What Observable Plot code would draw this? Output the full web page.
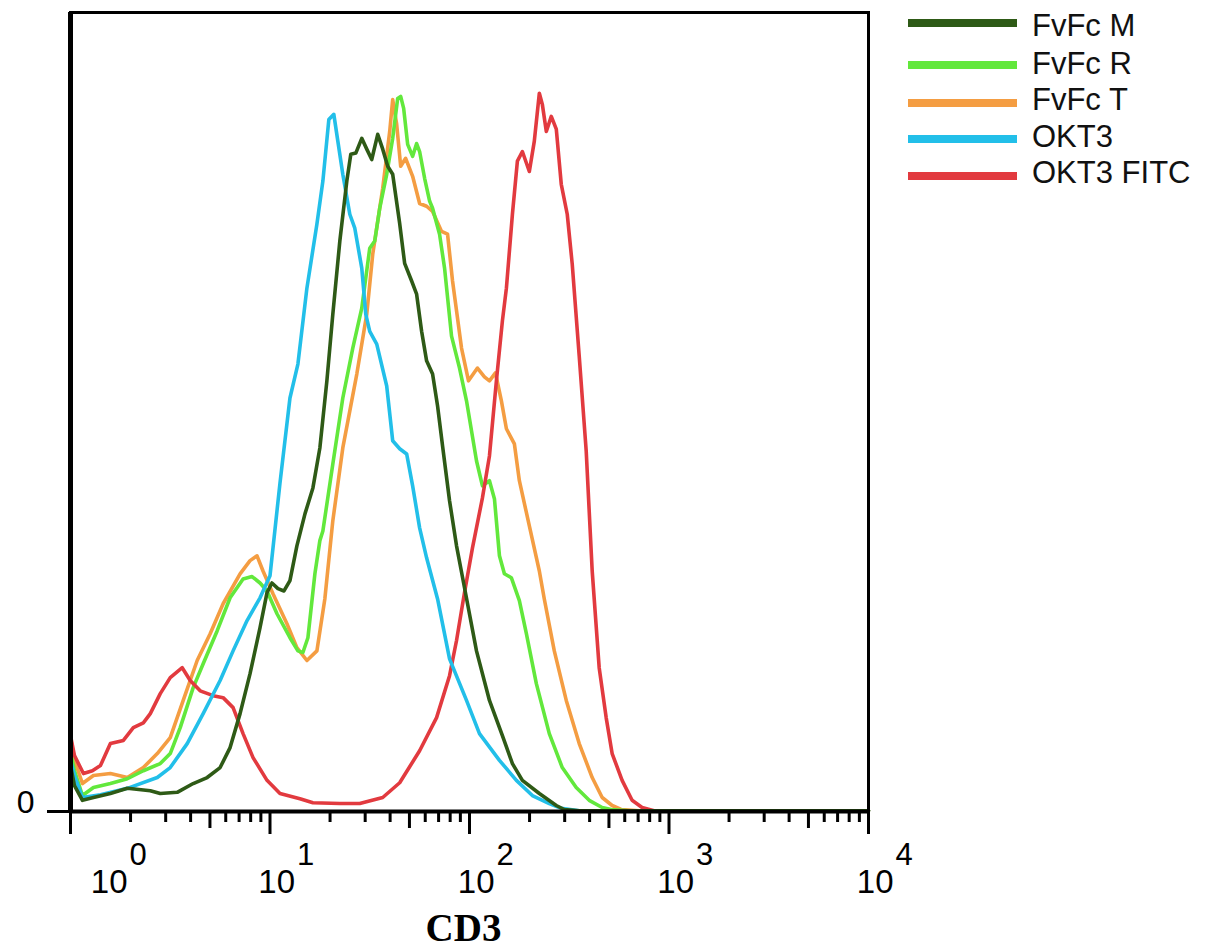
<!DOCTYPE html>
<html>
<head>
<meta charset="utf-8">
<script src="https://cdn.jsdelivr.net/npm/d3@7"></script>
<script src="https://cdn.jsdelivr.net/npm/@observablehq/plot@0.6"></script>
<style>
  body { margin: 0; background: #fff; }
  #chart { width: 1210px; height: 950px; }
</style>
</head>
<body>
<div id="chart"></div>
<script>
// ---- Series names & colours ----
const seriesNames = ["FvFc M", "FvFc R", "FvFc T", "OKT3", "OKT3 FITC"];
const seriesColors = ["#2e5a16", "#62e83c", "#f49d42", "#22bfe9", "#e23a3f"];

// ---- Axis tick values / labels ----
const majorTicks = [1, 10, 100, 1000, 10000];
const majorTickBase = "10";
const majorTickExponents = ["0", "1", "2", "3", "4"];
const midTicks = [5, 50, 500, 5000];
const minorTicks = [2, 3, 4, 6, 7, 8, 9, 20, 30, 40, 60, 70, 80, 90,
  200, 300, 400, 600, 700, 800, 900, 2000, 3000, 4000, 6000, 7000, 8000, 9000];
const yTicks = [0];
const xLabel = "CD3";

// ---- FvFc M (CD3 intensity, count) ----
const mX = [1, 1.047, 1.148, 1.303, 1.585, 1.928, 2.512, 2.818, 3.427, 4.121, 4.842, 5.623, 6.310, 7.079, 7.943, 8.913, 9.661, 10.23, 10.96, 11.75, 12.59, 13.64, 14.97, 16.41, 17.78, 19.28, 20.65, 22.39, 24.27, 25.41, 26.92, 28.84, 30.55, 32.36, 34.67, 36.73, 38.90, 41.21, 44.67, 47.31, 51.29, 54.32, 57.54, 60.95, 65.31, 69.18, 73.28, 79.43, 86.10, 94.41, 108.4, 125.9, 146.2, 164.1, 184.1, 223.9, 272.3, 298.5, 354.8, 10000];
const mY = [5.75, 3.25, 1.4, 1.75, 2.25, 2.9, 2.6, 2.25, 2.4, 3.5, 4.25, 5.5, 8, 12.25, 17.25, 23, 27.4, 28.6, 27.9, 27.6, 28.9, 33.25, 37.25, 40.5, 45.5, 53.9, 62.25, 71.4, 78.9, 82.25, 82.4, 84.25, 82.9, 81.6, 84.75, 82.9, 80.75, 79.75, 73.6, 68.6, 66.4, 64.75, 60.1, 56.4, 54.75, 50.75, 45.75, 38.9, 33.25, 28, 20.1, 13.9, 9.5, 6, 3.9, 2.25, 0.75, 0.25, 0.1, 0.1];

// ---- FvFc R ----
const rX = [1, 1.047, 1.148, 1.303, 1.585, 1.928, 2.318, 2.818, 3.162, 3.548, 4.121, 4.624, 5.432, 6.310, 7.328, 8.128, 8.913, 9.661, 10.84, 12.59, 13.80, 14.62, 15.49, 16.79, 17.78, 18.41, 20.65, 23.17, 26.00, 28.84, 31.62, 33.50, 35.48, 38.46, 41.21, 43.65, 45.19, 46.77, 48.98, 51.88, 54.32, 56.23, 59.57, 63.10, 65.31, 70.79, 74.99, 81.28, 89.13, 96.6, 108.4, 116.1, 125.9, 133.4, 141.3, 149.6, 162.2, 177.8, 192.8, 216.3, 251.2, 291.7, 342.7, 398.1, 462.4, 512.9, 631.0, 10000];
const rY = [7.4, 5.1, 2, 3, 3.5, 4.1, 5.1, 6, 7.25, 10.5, 15.5, 18.5, 22.6, 26.75, 29.1, 29.4, 28.6, 27.6, 24.75, 21.75, 20.1, 19.9, 21.75, 29.75, 33.9, 35.1, 43.5, 51.75, 58, 63, 70.5, 71.4, 75.5, 79.75, 84.25, 89.25, 89.5, 88, 83.5, 82, 83.6, 82.6, 79.25, 76.4, 75.5, 72.25, 68, 59.5, 55.5, 51.4, 43.9, 40.75, 41.4, 39.1, 32, 29.75, 29.25, 26.4, 22.25, 16, 9.75, 5.5, 3, 1.4, 0.5, 0.25, 0.1, 0.1];

// ---- FvFc T ----
const tX = [1, 1.047, 1.148, 1.303, 1.585, 1.928, 2.318, 2.723, 3.162, 3.673, 4.315, 5.012, 5.821, 7.079, 7.943, 8.610, 9.226, 10.35, 12.16, 13.64, 15.31, 17.18, 18.83, 20.65, 23.17, 27.23, 30.55, 32.73, 36.73, 39.81, 41.21, 43.15, 45.19, 47.86, 51.88, 56.23, 60.95, 65.31, 72.44, 77.63, 82.23, 91.20, 98.86, 109.6, 118.8, 125.9, 134.9, 144.5, 153.1, 167.9, 177.8, 199.5, 223.9, 237.1, 266.1, 305.5, 354.8, 412.1, 462.4, 518.8, 575.4, 707.9, 10000];
const tY = [9.25, 6.4, 3.5, 4.5, 4.75, 4.25, 5.5, 7.25, 9.25, 13.9, 18.9, 22.25, 26, 29.75, 31.4, 32, 30.1, 27.25, 23.5, 20.5, 18.9, 20.1, 26.6, 36.4, 45.5, 54.75, 62.25, 69.75, 78, 85.1, 89.1, 86, 80.75, 81.75, 79.5, 76.1, 75.75, 75.1, 72.6, 72.25, 66.4, 58, 53.9, 55.5, 54.4, 53.9, 54.9, 51.4, 47.9, 46, 41.4, 35.75, 30.1, 26.6, 20.1, 13.9, 8.5, 4.25, 1.75, 0.75, 0.25, 0.1, 0.1];

// ---- OKT3 ----
const oX = [1, 1.047, 1.148, 1.413, 1.928, 2.723, 3.162, 3.846, 4.624, 5.623, 6.531, 7.674, 8.913, 10, 11.22, 12.59, 13.80, 15.31, 17.18, 18.41, 19.72, 20.89, 21.88, 23.17, 25.12, 26.61, 28.84, 30.20, 31.62, 34.28, 38.46, 41.21, 44.67, 48.42, 51.88, 56.23, 60.95, 69.18, 79.43, 96.6, 112.2, 141.3, 171.8, 206.5, 251.2, 288.4, 354.8, 10000];
const oY = [6.4, 4.5, 1.75, 2.1, 2.9, 4.25, 5.5, 8.5, 12.25, 16.4, 20.1, 23.9, 26.75, 29.5, 41.1, 51.75, 56, 65.5, 73.5, 78.9, 86.6, 87.25, 83.9, 79.75, 74.75, 73, 68, 62.25, 60.1, 58.5, 53.25, 46.4, 45.4, 44.75, 40.75, 35.5, 31.75, 26.6, 19.1, 13.9, 9.75, 6.4, 3.9, 2, 1, 0.4, 0.1, 0.1];

// ---- OKT3 FITC ----
const fX = [1, 1.047, 1.161, 1.288, 1.413, 1.585, 1.841, 2.065, 2.318, 2.512, 2.818, 3.162, 3.631, 3.981, 4.467, 5.188, 5.821, 6.531, 7.328, 8.223, 9.661, 11.22, 14.13, 16.41, 22.39, 28.18, 36.73, 44.67, 56.23, 68.39, 79.43, 86.10, 94.41, 103.5, 116.1, 125.9, 136.4, 146.2, 153.1, 164.1, 173.8, 184.1, 199.5, 211.3, 223.9, 231.8, 242.7, 257.0, 272.3, 288.4, 309.0, 327.3, 354.8, 384.6, 412.1, 446.7, 484.2, 518.8, 582.1, 653.1, 732.8, 841.4, 10000];
const fY = [9.5, 7, 4.75, 5.1, 5.75, 8.5, 8.9, 10.5, 11.1, 12.25, 14.75, 16.75, 18, 16.4, 15.1, 14.5, 14.25, 13, 9.75, 6.75, 3.9, 2.25, 1.6, 1.1, 1, 1, 1.75, 3.6, 7.6, 11.75, 17, 21.4, 27.4, 33, 39.25, 44.5, 53.9, 61.4, 65.5, 74.75, 81.4, 82.6, 80.1, 83.9, 89.9, 88.5, 85.1, 87, 85.4, 78.5, 74.75, 68.5, 57, 45.1, 30.1, 18, 11.75, 7.25, 3.9, 1.4, 0.5, 0.1, 0.1];

// ---- Build table (drawing order: T, R, FITC, OKT3, M) ----
const seriesList = [
  {name: "FvFc T", x: tX, y: tY},
  {name: "FvFc R", x: rX, y: rY},
  {name: "OKT3 FITC", x: fX, y: fY},
  {name: "OKT3", x: oX, y: oY},
  {name: "FvFc M", x: mX, y: mY}
];
const rows = seriesList.flatMap(s => s.x.map((x, j) => ({series: s.name, x, y: s.y[j]})));

const W = 1210, H = 950;
const mL = 70, mR = 342, mT = 12, mB = 139;
const plotW = W - mL - mR, plotH = H - mT - mB;
const sans = "Liberation Sans, Arial, Helvetica, sans-serif";
const serif = "Liberation Serif, Times New Roman, serif";

const tickMarks = (vals, len) => Plot.tickX(vals, {
  x: d => d, stroke: "black", strokeWidth: 3, insetTop: plotH - len, dy: len
});

const chart = Plot.plot({
  width: W, height: H,
  marginLeft: mL, marginRight: mR, marginTop: mT, marginBottom: mB,
  style: {background: "white"},
  x: {type: "log", domain: [1, 10000], axis: null},
  y: {domain: [0, 100], axis: null},
  color: {domain: seriesNames, range: seriesColors},
  marks: [
    Plot.line(rows, {x: "x", y: "y", z: "series", stroke: "series", strokeWidth: 3.6,
      strokeLinejoin: "round", strokeLinecap: "round"}),
    Plot.frame({stroke: "black", strokeWidth: 3}),
    Plot.ruleX([1], {stroke: "black", strokeWidth: 5}),
    Plot.ruleY([0], {stroke: "black", strokeWidth: 4}),
    tickMarks(majorTicks, 23),
    tickMarks(midTicks, 17),
    tickMarks(minorTicks, 11),
    Plot.tickY(yTicks, {y: d => d, stroke: "black", strokeWidth: 3, insetRight: plotW - 23, dx: -23}),
    Plot.text(yTicks, {y: d => d, text: d => String(d), frameAnchor: "left", textAnchor: "end",
      lineAnchor: "bottom", dx: -36, dy: 1, fontSize: 32, fontFamily: sans, fill: "black"}),
    // "10" base labels
    Plot.text(majorTicks.slice(0, 1), {x: d => d, text: () => majorTickBase, frameAnchor: "bottom",
      textAnchor: "end", lineAnchor: "bottom", dx: 57, dy: 81, fontSize: 33, fontFamily: sans, fill: "black"}),
    Plot.text(majorTicks.slice(1), {x: d => d, text: () => majorTickBase, frameAnchor: "bottom",
      textAnchor: "end", lineAnchor: "bottom", dx: 25, dy: 81, fontSize: 33, fontFamily: sans, fill: "black"}),
    // exponents
    Plot.text(majorTicks.slice(0, 1), {x: d => d, text: d => majorTickExponents[majorTicks.indexOf(d)],
      frameAnchor: "bottom", textAnchor: "start", lineAnchor: "bottom", dx: 59, dy: 53,
      fontSize: 31, fontFamily: sans, fill: "black"}),
    Plot.text(majorTicks.slice(1), {x: d => d, text: d => majorTickExponents[majorTicks.indexOf(d)],
      frameAnchor: "bottom", textAnchor: "start", lineAnchor: "bottom", dx: 27, dy: 53,
      fontSize: 31, fontFamily: sans, fill: "black"}),
    // axis title
    Plot.text([xLabel], {text: d => d, frameAnchor: "bottom", textAnchor: "middle", lineAnchor: "bottom",
      dx: -6, dy: 129, fontSize: 39, fontWeight: "bold", fontFamily: serif, fill: "black"})
  ]
});

// ---- Legend (top right) ----
const legendLineY = [23, 65, 103, 139, 176];
const legendTextY = [36, 74, 110, 147, 183];
const lg = d3.select(chart).append("g").attr("class", "legend").attr("text-anchor", "start");
seriesNames.forEach((name, i) => {
  lg.append("line")
    .attr("x1", 908).attr("x2", 1017)
    .attr("y1", legendLineY[i]).attr("y2", legendLineY[i])
    .attr("stroke", seriesColors[i]).attr("stroke-width", 8);
  lg.append("text")
    .attr("x", 1032).attr("y", legendTextY[i])
    .attr("text-anchor", "start")
    .attr("font-family", sans).attr("font-size", 31)
    .attr("fill", "#111")
    .text(name);
});

document.getElementById("chart").appendChild(chart);
</script>
</body>
</html>
